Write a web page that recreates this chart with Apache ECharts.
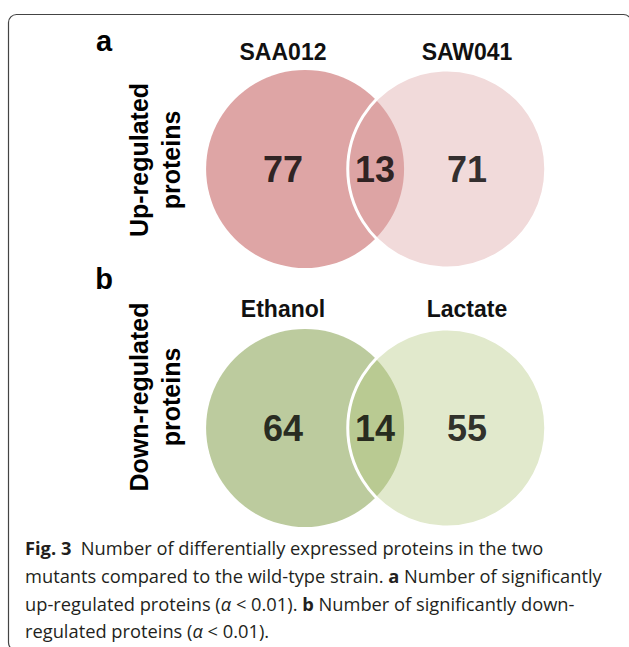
<!DOCTYPE html>
<html>
<head>
<meta charset="utf-8">
<script src="https://cdn.jsdelivr.net/npm/echarts@6/dist/echarts.min.js"></script>
<style>
  html, body { margin: 0; padding: 0; background: #fff; }
  #chart { width: 629px; height: 647px; }
</style>
</head>
<body>
<div id="chart"></div>
<script>
// Panel letters and the vertical row titles
const panelLetters = ['a', 'b'];
const rowLabels = ['Up-regulated\nproteins', 'Down-regulated\nproteins'];

// Up-regulated proteins: set names and counts [first only, shared, second only]
const upSetNames = ['SAA012', 'SAW041'];
const upCounts = [77, 13, 71];

// Down-regulated proteins
const downSetNames = ['Ethanol', 'Lactate'];
const downCounts = [64, 14, 55];

const regionNames = ['first only', 'shared', 'second only'];

const captionLines = [
  '{b|Fig. 3}  Number of differentially expressed proteins in the two',
  'mutants compared to the wild-type strain. {b|a} Number of significantly',
  'up-regulated proteins ({i|α} < 0.01). {b|b} Number of significantly down-',
  'regulated proteins ({i|α} < 0.01).'
];

// ---- layout ----
const FONT = '"Liberation Sans", Arial, sans-serif';
const CAPTION_FONT = '"Open Sans", "Noto Sans", sans-serif';
const CAPTION_SIZE = 18.3, CAPTION_LH = 27.7;
const gridLeft = 237, gridWidth = 276, gridHeight = 198;
const circleAt = [0.24, 1.78];      // circle centres in region units
const circleSize = 198;
const panels = [
  { sets: upSetNames, counts: upCounts, top: 70, nameGap: 18,
    fills: ['#dea5a5', 'rgba(220,163,163,0.4)'], letterY: 41, rowY: 160 },
  { sets: downSetNames, counts: downCounts, top: 329, nameGap: 20,
    fills: ['#bccb9e', 'rgba(180,200,128,0.4)'], letterY: 279, rowY: 397 }
];

const grid = [], xAxis = [], yAxis = [], series = [], graphic = [];

panels.forEach((p, i) => {
  grid.push({ left: gridLeft, top: p.top, width: gridWidth, height: gridHeight });
  // value axis carrying the marks
  xAxis.push({ type: 'value', gridIndex: i, min: -0.5, max: 2.5, show: false });
  // category axis carrying the set names above the circles
  xAxis.push({
    type: 'category', gridIndex: i, position: 'top',
    data: [p.sets[0], '', p.sets[1]],
    axisLine: { show: false }, axisTick: { show: false }, splitLine: { show: false },
    axisLabel: {
      interval: 0, margin: p.nameGap, verticalAlign: 'middle',
      fontFamily: FONT, fontSize: 23, fontWeight: 'bold', color: '#111'
    }
  });
  yAxis.push({ type: 'value', gridIndex: i, min: -1, max: 1, show: false });

  // the two sets as circles
  series.push({
    type: 'scatter', xAxisIndex: 2 * i, yAxisIndex: i, clip: false, silent: true,
    symbol: 'circle', symbolSize: circleSize,
    data: p.sets.map((name, k) => ({
      name,
      value: [circleAt[k], 0],
      itemStyle: {
        color: p.fills[k],
        borderColor: k ? '#ffffff' : 'rgba(0,0,0,0)',
        borderWidth: k ? 3 : 0,
        opacity: 1
      }
    }))
  });
  // region counts
  series.push({
    type: 'scatter', xAxisIndex: 2 * i, yAxisIndex: i, clip: false, silent: true,
    symbolSize: 0,
    data: p.counts.map((v, k) => ({ name: regionNames[k], value: [k, 0, v] })),
    label: {
      show: true, position: 'inside',
      formatter: d => String(d.value[2]),
      fontFamily: FONT, fontSize: 36, fontWeight: 'bold', color: '#000'
    }
  });

  // panel letter
  graphic.push({
    type: 'text', x: 104, y: p.letterY,
    style: { text: panelLetters[i], font: 'bold 29px ' + FONT, fill: '#000',
             align: 'center', verticalAlign: 'middle' }
  });
  // vertical row title
  graphic.push({
    type: 'text', x: 155, y: p.rowY, rotation: Math.PI / 2,
    style: { text: rowLabels[i], font: 'bold 25px ' + FONT, fill: '#000',
             align: 'center', verticalAlign: 'middle', lineHeight: 32 }
  });
});

// caption
const capStyle = extra => Object.assign({
  fontFamily: CAPTION_FONT, fontSize: CAPTION_SIZE, fill: '#231f20', lineHeight: CAPTION_LH
}, extra);
graphic.push({
  type: 'text', x: 25, y: 534,
  style: capStyle({
    text: captionLines.join('\n'),
    verticalAlign: 'top',
    rich: {
      b: capStyle({ fontWeight: 'bold' }),
      i: capStyle({ fontStyle: 'italic' })
    }
  })
});
// figure frame
graphic.push({
  type: 'rect', z: -1,
  shape: { x: 8.5, y: 14.5, width: 623, height: 636, r: 8 },
  style: { fill: 'none', stroke: '#444', lineWidth: 1.2 }
});

const chart = echarts.init(document.getElementById('chart'), null, { renderer: 'svg' });
chart.setOption({
  animation: false,
  backgroundColor: '#fff',
  grid, xAxis, yAxis, series, graphic
});
</script>
</body>
</html>
